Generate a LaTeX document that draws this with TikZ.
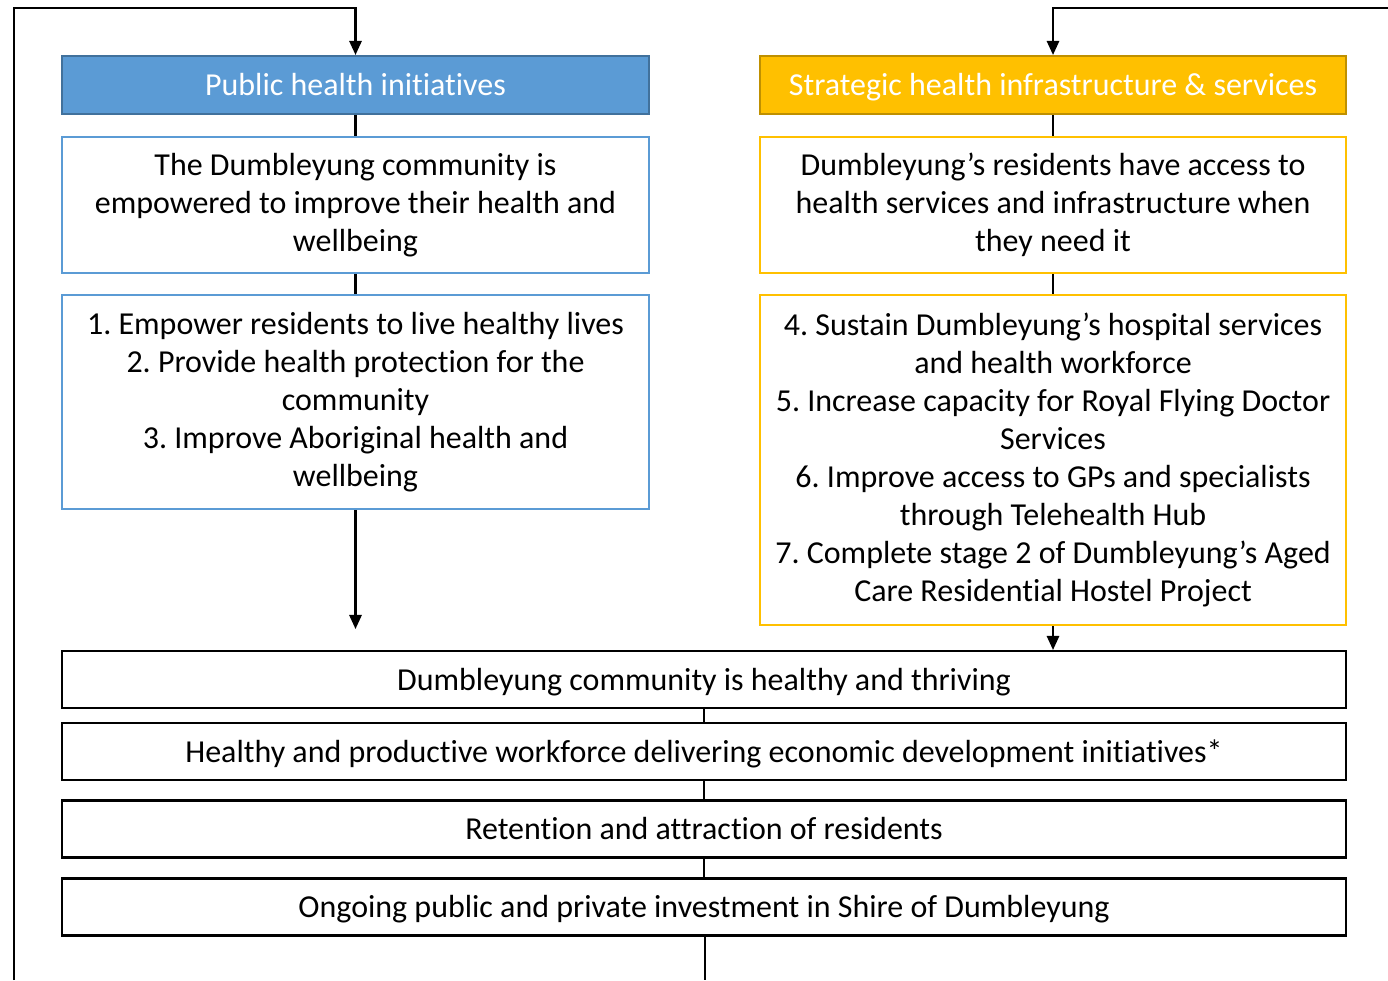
\documentclass[tikz,border=0pt]{standalone}
\usepackage{fontspec}
\setmainfont{Carlito}[Ligatures=NoCommon]
\usetikzlibrary{arrows.meta}
\definecolor{phblue}{HTML}{5B9BD5}
\definecolor{phblueline}{HTML}{41719C}
\definecolor{shgold}{HTML}{FFC000}
\definecolor{shgoldline}{HTML}{BF9000}
\frenchspacing

\begin{document}
\begin{tikzpicture}[x=0.02cm, y=-0.02cm,
		box/.style={draw, line width=1.2pt, align=center, inner sep=0pt, font=\fontsize{18.2}{21.6}\selectfont},
		headbox/.style={box, minimum height=1.16cm, text=white, text height=15pt, text depth=2.6pt},
		wide/.style={box, minimum width=25.68cm, minimum height=1.14cm, text height=15pt, text depth=2.6pt},
		link/.style={line width=1.2pt},
		arrow/.style={line width=1.2pt, -{Triangle[length=8pt, width=7pt]}}]
			%%%%% START %%%%%
			\useasboundingbox (0, 0) rectangle (1388, 980);
			
			\node[headbox, fill=phblue, draw=phblueline, minimum width=11.74cm] (phead) at (355.5, 85) {Public health initiatives};
			\node[box, draw=phblue, minimum width=11.74cm, minimum height=2.72cm] (pgoal) at (355.5, 205) {The Dumbleyung community is\\empowered to improve their health and\\wellbeing};
			\node[box, draw=phblue, minimum width=11.74cm, minimum height=4.28cm] (pacts) at (355.5, 402) {1. Empower residents to live healthy lives\\2. Provide health protection for the\\community\\3. Improve Aboriginal health and\\wellbeing};
			
			\node[headbox, fill=shgold, draw=shgoldline, minimum width=11.72cm] (shead) at (1053, 85) {Strategic health infrastructure \& services};
			\node[box, draw=shgold, minimum width=11.72cm, minimum height=2.72cm] (sgoal) at (1053, 205) {Dumbleyung’s residents have access to\\health services and infrastructure when\\they need it};
			\node[box, draw=shgold, minimum width=11.72cm, minimum height=6.6cm] (sacts) at (1053, 460) {4. Sustain Dumbleyung’s hospital services\\and health workforce\\5. Increase capacity for Royal Flying Doctor\\Services\\6. Improve access to GPs and specialists\\through Telehealth Hub\\7. Complete stage 2 of Dumbleyung’s Aged\\Care Residential Hostel Project};
			
			\node[wide] (out1) at (704, 679.5) {Dumbleyung community is healthy and thriving};
			\node[wide] (out2) at (704, 751.5) {Healthy and productive workforce delivering economic development initiatives*};
			\node[wide] (out3) at (704, 829) {Retention and attraction of residents};
			\node[wide] (out4) at (704, 907) {Ongoing public and private investment in Shire of Dumbleyung};
			
			\coordinate (ptip) at (355.5, 629);
			\coordinate (loopbot) at (705, 980);
			\coordinate (loopleft) at (14, 980);
			\coordinate (lefttop) at (14, 8);
			\coordinate (righttop) at (1388, 8);
			
			\draw[link] (phead) -- (pgoal);
			\draw[link] (pgoal) -- (pacts);
			\draw[arrow] (pacts) -- (ptip);
			\draw[link] (shead) -- (sgoal);
			\draw[link] (sgoal) -- (sacts);
			\draw[arrow] (sacts.south) -- (sacts.south |- out1.north);
			
			\draw[link] (out1) -- (out2);
			\draw[link] (out2) -- (out3);
			\draw[link] (out3) -- (out4);
			
			\draw[link] (out4.south -| loopbot) -- (loopbot);
			\draw[arrow] (loopleft) -- (lefttop) -| (phead.north);
			\draw[arrow] (righttop) -| (shead.north);
			%%%%% END %%%%%
\end{tikzpicture}
\end{document}
